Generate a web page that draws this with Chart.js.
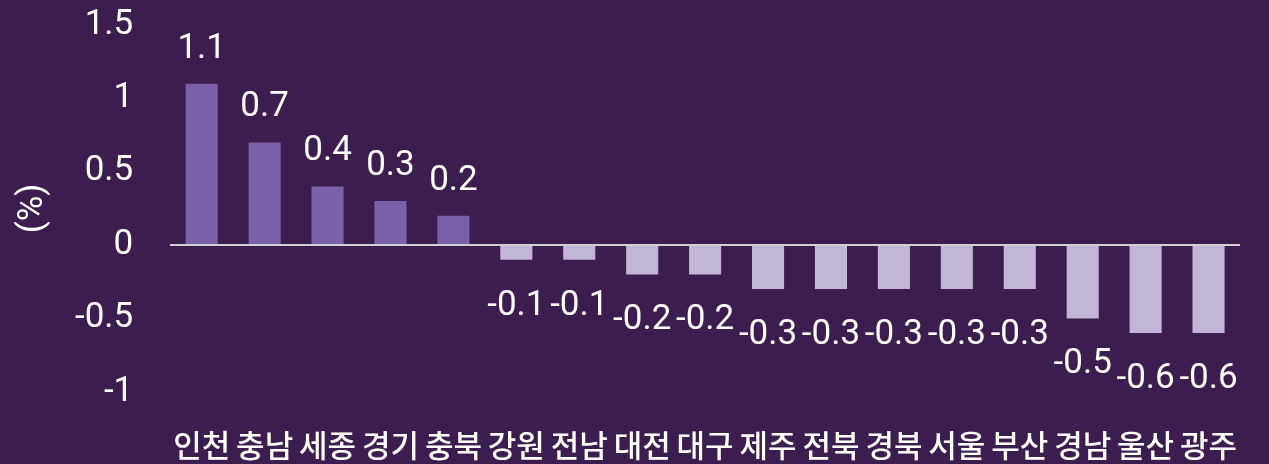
<!DOCTYPE html>
<html lang="ko">
<head>
  <meta charset="UTF-8">
  <title>지역별 변동률</title>
  <script src="https://cdn.jsdelivr.net/npm/chart.js"></script>
  <style>
    html, body {
      margin: 0;
      padding: 0;
      background: #3b1d4f;
    }
    .chart-box {
      width: 1269px;
      height: 464px;
    }
  </style>
</head>
<body>
  <div class="chart-box">
    <canvas id="chartRegioes"></canvas>
  </div>

  <script>
    const regions = ['인천', '충남', '세종', '경기', '충북', '강원', '전남', '대전', '대구', '제주', '전북', '경북', '서울', '부산', '경남', '울산', '광주'];
    const values = [1.1, 0.7, 0.4, 0.3, 0.2, -0.1, -0.1, -0.2, -0.2, -0.3, -0.3, -0.3, -0.3, -0.3, -0.5, -0.6, -0.6];
    const yTicks = [-1, -0.5, 0, 0.5, 1, 1.5];

    const numFont = "Roboto, 'Noto Sans', sans-serif";
    const korFont = "'Noto Sans CJK KR', 'Noto Sans', sans-serif";

    // rótulos de valor acima / abaixo das barras
    const valueLabels = {
      id: 'valueLabels',
      afterDatasetsDraw(chart) {
        const ctx = chart.ctx;
        const meta = chart.getDatasetMeta(0);
        ctx.save();
        ctx.fillStyle = '#ffffff';
        ctx.font = '35px ' + numFont;
        ctx.textAlign = 'center';
        ctx.textBaseline = 'alphabetic';
        meta.data.forEach((bar, i) => {
          const v = values[i];
          const y = v >= 0 ? bar.y - 26 : bar.y + 55;
          ctx.fillText(String(v), bar.x, y);
        });
        ctx.restore();
      }
    };

    new Chart(document.getElementById('chartRegioes'), {
      type: 'bar',
      data: {
        labels: regions,
        datasets: [{
          data: values,
          backgroundColor: values.map(v => v >= 0 ? '#7a62a9' : '#c1b6d8'),
          categoryPercentage: 1,
          barPercentage: 0.51
        }]
      },
      options: {
        responsive: true,
        maintainAspectRatio: false,
        animation: false,
        layout: { padding: { top: 0, right: 29, bottom: 0, left: 12 } },
        plugins: {
          legend: { display: false },
          tooltip: { enabled: false }
        },
        scales: {
          x: {
            grid: {
              display: true,
              drawTicks: true,
              tickLength: 35,
              color: 'transparent',
              tickColor: 'transparent'
            },
            border: { display: false },
            ticks: {
              color: '#ffffff',
              font: { family: korFont, size: 31, weight: '500' },
              padding: 0,
              maxRotation: 0,
              autoSkip: false
            }
          },
          y: {
            min: -1,
            max: 1.5,
            afterBuildTicks: axis => { axis.ticks = yTicks.map(v => ({ value: v })); },
            border: { display: false },
            grid: {
              drawTicks: true,
              tickLength: 33,
              tickColor: 'transparent',
              lineWidth: 2,
              color: c => c.tick && c.tick.value === 0 ? '#cfcfd6' : 'transparent'
            },
            ticks: {
              color: '#ffffff',
              font: { family: numFont, size: 35 },
              padding: 4,
              callback: v => String(v)
            },
            title: {
              display: true,
              text: '(%)',
              color: '#ffffff',
              font: { family: numFont, size: 35 },
              padding: { top: 0, bottom: 17 }
            }
          }
        }
      },
      plugins: [valueLabels]
    });
  </script>
</body>
</html>
